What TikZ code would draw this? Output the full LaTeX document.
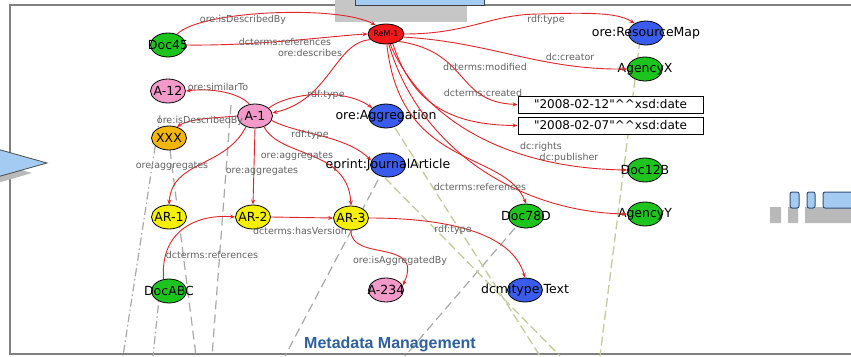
\documentclass[tikz,border=0pt]{standalone}
\usepackage{fontspec}
\setmainfont{DejaVu Sans}
\newfontfamily\titlefont{Liberation Sans}
\usetikzlibrary{shapes.geometric,arrows.meta}

\definecolor{relred}{HTML}{E0242A}
\definecolor{remred}{HTML}{F01818}
\definecolor{entgreen}{HTML}{1EC41E}
\definecolor{entblue}{HTML}{3A5CEC}
\definecolor{entpink}{HTML}{F49ACB}
\definecolor{entyellow}{HTML}{F4F000}
\definecolor{entgold}{HTML}{F2B60A}
\definecolor{paleblue}{HTML}{A4CCF2}
\definecolor{iconblue}{HTML}{34507A}
\definecolor{framegray}{HTML}{808080}
\definecolor{dashgray}{HTML}{A8A8A8}
\definecolor{dasholive}{HTML}{C2CC9A}
\definecolor{titleblue}{HTML}{2E5F9E}

\begin{document}
\begin{tikzpicture}[x=1pt,y=-1pt,
  ent/.style={ellipse, draw=black, line width=0.8pt, minimum width=35pt,
    minimum height=24pt, inner sep=0pt},
  nlab/.style={font=\fontsize{12.5}{13}\selectfont, text=black, inner sep=0pt},
  elab/.style={font=\fontsize{9.5}{10}\selectfont, text=black!62, inner sep=0pt},
  litbox/.style={draw=black, line width=1pt, fill=white, minimum width=185pt,
    minimum height=17pt, inner sep=0pt, font=\fontsize{12}{13}\selectfont},
  rel/.style={draw=relred, line width=0.9pt, -{Stealth[length=5pt,width=4pt]}},
  bgdash/.style={draw=dashgray, line width=1.2pt, dash pattern=on 9pt off 5pt},
  bgdashdot/.style={draw=dashgray, line width=1.2pt, dash pattern=on 8pt off 3pt on 1.5pt off 3pt},
  bgolive/.style={draw=dasholive, line width=1.3pt, dash pattern=on 9pt off 4pt}
]
\useasboundingbox (0,0) rectangle (851,356);
\clip (0,0) rectangle (851,356);

% slide frame and decorations
\draw[framegray, line width=1.8pt] (10,5) rectangle (880,354);
\fill[gray!45] (335,-10) rectangle (467,22);
\filldraw[fill=paleblue, draw=black!75, line width=0.8pt] (355,-10) rectangle (484,5);
\fill[gray!55] (-20,158) -- (32,173) -- (-20,188) -- cycle;
\filldraw[fill=paleblue, draw=black!70, line width=0.8pt] (-10,147) -- (47,163) -- (-10,179) -- cycle;
\fill[gray!55] (770,207) rectangle (781,223) (788,207) rectangle (798,223) (805,207) rectangle (860,223);
\filldraw[fill=paleblue, draw=iconblue, rounded corners=2pt, line width=1pt]
  (790,192) rectangle (799,208) (807,192) rectangle (815,208) (823,192) rectangle (870,208);

% background guide lines
\draw[bgdashdot] (160,115) -- (123,356);
\draw[bgdashdot] (160,290) -- (153,356);
\draw[bgdash] (170,150) -- (196,356);
\draw[bgdash] (231,105) -- (212,356);
\draw[bgdash] (378,180) -- (285,356);
\draw[bgdash] (515,228) -- (405,356);
\draw[bgolive] (385,178) -- (560,356);
\draw[bgolive] (395,128) -- (540,356);
\draw[bgolive] (640,40) -- (600,356);

% resources
\node[ent, fill=entgreen, label={[nlab]center:Doc45}] (doc45) at (168,45) {};
\node[ent, fill=remred, minimum width=36pt, minimum height=20pt, label={[nlab, font=\fontsize{8}{9}\selectfont]center:ReM-1}] (rem) at (386,34) {};
\node[ent, fill=entblue, label={[nlab]center:ore:ResourceMap}] (resmap) at (646,33) {};
\node[ent, fill=entgreen, label={[nlab]center:AgencyX}] (agx) at (645,69) {};
\node[ent, fill=entpink, label={[nlab]center:A-12}] (a12) at (168,91) {};
\node[ent, fill=entpink, label={[nlab]center:A-1}] (a1) at (255,116) {};
\node[ent, fill=entgold, label={[nlab]center:XXX}] (xxx) at (169,138) {};
\node[ent, fill=entblue, label={[nlab]center:ore:Aggregation}] (oreagg) at (386,116) {};
\node[ent, fill=entblue, label={[nlab]center:eprint:JournalArticle}] (eprint) at (388,165) {};
\node[ent, fill=entgreen, label={[nlab]center:Doc12B}] (doc12b) at (645,170) {};
\node[ent, fill=entgreen, label={[nlab]center:AgencyY}] (agy) at (645,214) {};
\node[ent, fill=entyellow, label={[nlab]center:AR-1}] (ar1) at (169,217) {};
\node[ent, fill=entyellow, label={[nlab]center:AR-2}] (ar2) at (253,217) {};
\node[ent, fill=entyellow, label={[nlab]center:AR-3}] (ar3) at (351,218) {};
\node[ent, fill=entgreen, label={[nlab]center:Doc78D}] (doc78d) at (526,216) {};
\node[ent, fill=entgreen, label={[nlab]center:DocABC}] (docabc) at (169,291) {};
\node[ent, fill=entpink, label={[nlab]center:A-234}] (a234) at (386,290) {};
\node[ent, fill=entblue, label={[nlab]center:dcmitype:Text}] (dcmi) at (525,290) {};
\node[litbox] (lit1) at (610.5,104.5) {\textquotedbl 2008-02-12\textquotedbl\textasciicircum\textasciicircum xsd:date};
\node[litbox] (lit2) at (610.5,125.5) {\textquotedbl 2008-02-07\textquotedbl\textasciicircum\textasciicircum xsd:date};

% relations
\draw[rel] (doc45.50) .. controls (200,10) and (340,5) .. (rem.140);
\draw[rel] (doc45.east) .. controls (260,46) and (330,36) .. (rem.west);
\draw[rel] (rem.200) .. controls (335,42) and (330,100) .. (a1.10);
\draw[rel] (a1.115) .. controls (238,92) and (210,88) .. (a12.east);
\draw[rel] (a1.180) .. controls (215,118) and (192,118) .. (xxx.55);
\draw[rel] (a1.30) .. controls (290,92) and (345,88) .. (oreagg.150);
\draw[rel] (a1.345) .. controls (300,135) and (345,135) .. (eprint.165);
\draw[rel] (a1.230) .. controls (225,168) and (172,160) .. (ar1.north);
\draw[rel] (a1.south) -- (ar2.north);
\draw[rel] (a1.310) .. controls (280,158) and (348,148) .. (ar3.north);
\draw[rel] (rem.east) .. controls (470,34) and (490,14) .. (540,14)
  .. controls (600,12) and (620,14) .. (resmap.140);
\draw[rel] (rem.350) .. controls (490,42) and (540,70) .. (agx.west);
\draw[rel] (rem.330) .. controls (470,52) and (455,102) .. (lit1.west);
\draw[rel] (rem.305) .. controls (410,95) and (440,125) .. (lit2.west);
\draw[rel] (rem.292) .. controls (420,115) and (500,168) .. (doc12b.west);
\draw[rel] (rem.285) .. controls (420,150) and (520,212) .. (agy.west);
\draw[rel] (rem.275) .. controls (400,170) and (505,150) .. (doc78d.north);
\draw[rel] (ar2.east) -- (ar3.west);
\draw[rel] (docabc.115) .. controls (160,228) and (200,214) .. (ar2.west);
\draw[rel] (ar3.south) .. controls (350,262) and (425,238) .. (a234.15);
\draw[rel] (ar3.east) .. controls (445,218) and (512,232) .. (dcmi.north);

% relation labels
\node[elab] (t1) at (243,20) {ore:isDescribedBy};
\node[elab] (t2) at (285,42) {dcterms:references};
\node[elab] (t3) at (310,53) {ore:describes};
\node[elab] (t4) at (218,87) {ore:similarTo};
\node[elab] (t5) at (200,121) {ore:isDescribedBy};
\node[elab] (t6) at (326,95) {rdf:type};
\node[elab] (t7) at (310,135) {rdf:type};
\node[elab] (t8) at (172,166) {ore:aggregates};
\node[elab] (t9) at (262,171) {ore:aggregates};
\node[elab] (t10) at (297,156) {ore:aggregates};
\node[elab] (t11) at (546,20) {rdf:type};
\node[elab] (t12) at (570,57) {dc:creator};
\node[elab] (t13) at (485,67) {dcterms:modified};
\node[elab] (t14) at (483,93) {dcterms:created};
\node[elab] (t15) at (541,147) {dc:rights};
\node[elab] (t16) at (569,158) {dc:publisher};
\node[elab] (t17) at (480,187) {dcterms:references};
\node[elab] (t18) at (300,231) {dcterms:hasVersion};
\node[elab] (t19) at (212,255) {dcterms:references};
\node[elab] (t20) at (400,261) {ore:isAggregatedBy};
\node[elab] (t21) at (453,230) {rdf:type};

\node[font=\titlefont\bfseries\fontsize{16}{18}\selectfont, text=titleblue, anchor=base] (title) at (390,348) {Metadata Management};
\end{tikzpicture}
\end{document}
